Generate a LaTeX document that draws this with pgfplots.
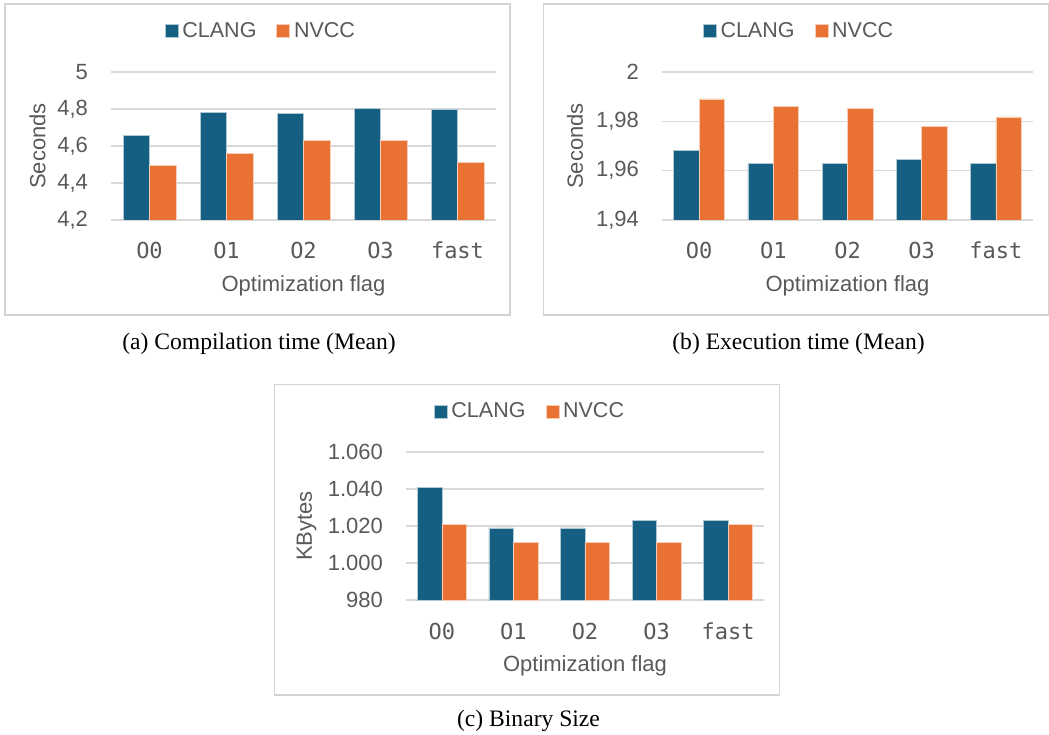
\documentclass[border=0pt]{standalone}
\usepackage{fontspec}
\setmainfont{Liberation Serif}
\newfontfamily\sansf{Liberation Sans}
\newfontfamily\monof{DejaVu Sans Mono}
\usepackage{pgfplots}
\pgfplotsset{compat=1.18}
\definecolor{clang}{HTML}{156082}
\definecolor{nvcc}{HTML}{E97132}
\definecolor{gridc}{HTML}{D9D9D9}
\definecolor{txt}{HTML}{595959}
\definecolor{boxc}{HTML}{D4D4D4}
\pgfplotsset{
  mybar/.style={
    scale only axis, ybar=0pt, height=74pt,
    xmin=-0.5, xmax=4.5, enlarge x limits=false, enlarge y limits=false,
    xtick={0,1,2,3,4}, xticklabels={O0,O1,O2,O3,fast},
    axis line style={draw=none}, major tick length=0pt,
    ymajorgrids, grid style={draw=gridc, line width=0.6pt},
    /pgf/number format/assume math mode=true,
    yticklabel style={font=\sansf\fontsize{11}{13}\selectfont, text=txt, anchor=east, xshift=-8pt},
    xticklabel style={font=\monof\fontsize{11}{13}\selectfont, text=txt, anchor=base, yshift=-19.5pt},
    xlabel={Optimization flag},
    xlabel style={font=\sansf\fontsize{11}{13}\selectfont, text=txt, at={(axis description cs:0.5,-0.446)}, anchor=center},
    ylabel style={font=\sansf\fontsize{11}{13}\selectfont, text=txt, anchor=center},
    legend columns=2,
    legend image code/.code={\fill[##1] (-2pt,-3.25pt) rectangle (4.5pt,3.25pt);},
    legend style={draw=none, fill=none, font=\sansf\fontsize{10.75}{13}\selectfont, text=txt,
      /tikz/every even column/.append style={column sep=8pt}},
  },
  clangbar/.style={fill=clang, draw=white!65!clang, line width=0.3pt},
  nvccbar/.style={fill=nvcc, draw=white!65!nvcc, line width=0.3pt},
}
\begin{document}
\begin{tikzpicture}
\path[use as bounding box] (0,0) rectangle (524.5pt,367pt);
% panel boxes
\draw[boxc, line width=0.6pt] (2.5pt,365pt) rectangle (255pt,209.5pt);
\draw[boxc, line width=0.6pt] (271.7pt,365pt) rectangle (524.2pt,209.5pt);
\draw[boxc, line width=0.6pt] (137.2pt,174.85pt) rectangle (389.65pt,19.5pt);

% (a) Compilation time
\begin{axis}[mybar, at={(55.5pt,257pt)}, anchor=south west, width=192.5pt,
  bar width=13.25pt,
  ymin=4.2, ymax=5, ytick={4.2,4.4,4.6,4.8,5},
  /pgf/number format/.cd, use comma, fixed, /pgfplots/.cd,
  ylabel={Seconds},
  ylabel style={at={(axis description cs:-0.191,0.5)}},
  legend style={at={(0.392,1.277)}, anchor=center}]
\addplot[clangbar] coordinates {(0,4.656) (1,4.782) (2,4.777) (3,4.804) (4,4.796)};
\addplot[nvccbar] coordinates {(0,4.495) (1,4.559) (2,4.629) (3,4.631) (4,4.510)};
\legend{CLANG,NVCC}
\end{axis}

% (b) Execution time
\begin{axis}[mybar, at={(331pt,257pt)}, anchor=south west, width=185.5pt,
  bar width=12.7pt,
  ymin=1.94, ymax=2, ytick={1.94,1.96,1.98,2},
  /pgf/number format/.cd, use comma, fixed, precision=2, /pgfplots/.cd,
  ylabel={Seconds},
  ylabel style={at={(axis description cs:-0.2345,0.5)}},
  legend style={at={(0.372,1.277)}, anchor=center}]
\addplot[clangbar] coordinates {(0,1.9682) (1,1.9628) (2,1.9630) (3,1.9647) (4,1.9630)};
\addplot[nvccbar] coordinates {(0,1.9891) (1,1.9861) (2,1.9853) (3,1.9781) (4,1.9818)};
\legend{CLANG,NVCC}
\end{axis}

% (c) Binary size
\begin{axis}[mybar, at={(203pt,67pt)}, anchor=south west, width=179pt,
  bar width=12.25pt,
  ymin=980, ymax=1060, ytick={980,1000,1020,1040,1060},
  /pgf/number format/.cd, 1000 sep={.}, /pgfplots/.cd,
  ylabel={KBytes},
  ylabel style={at={(axis description cs:-0.2774,0.5)}},
  legend style={at={(0.349,1.272)}, anchor=center}]
\addplot[clangbar] coordinates {(0,1041) (1,1019) (2,1019) (3,1023) (4,1023)};
\addplot[nvccbar] coordinates {(0,1021) (1,1011) (2,1011) (3,1011) (4,1021)};
\legend{CLANG,NVCC}
\end{axis}

% captions
\node[anchor=base, font=\fontsize{11.8}{14}\selectfont] at (129.5pt,192.35pt) {(a) Compilation time (Mean)};
\node[anchor=base, font=\fontsize{11.8}{14}\selectfont] at (399.25pt,192.35pt) {(b) Execution time (Mean)};
\node[anchor=base, font=\fontsize{11.8}{14}\selectfont] at (264.25pt,3.65pt) {(c) Binary Size};
\end{tikzpicture}
\end{document}
